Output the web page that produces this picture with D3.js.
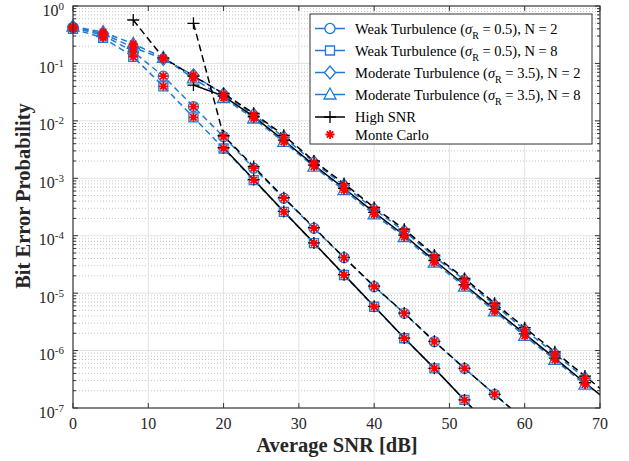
<!DOCTYPE html>
<html>
<head>
<meta charset="utf-8">
<script src="https://cdn.jsdelivr.net/npm/d3@7"></script>
<style>
  body { margin: 0; background: #fff; }
  svg { display: block; }
</style>
</head>
<body>
<svg id="chart" width="629" height="461"></svg>
<script>
// values
const snr = [0, 4, 8, 12, 16, 20, 24, 28, 32, 36, 40, 44, 48, 52, 56, 60, 64, 68];
const weakN2 = [0.42, 0.31, 0.16, 0.060, 0.0177, 0.0053, 0.0015, 4.5e-4, 1.35e-4, 4.15e-5, 1.3e-5, 4.45e-6, 1.43e-6, 4.9e-7, 1.73e-7, 6e-8, null, null];
const weakN8 = [0.40, 0.28, 0.13, 0.040, 0.0115, 0.0033, 9.3e-4, 2.6e-4, 7.4e-5, 2.07e-5, 5.8e-6, 1.64e-6, 4.9e-7, 1.38e-7, 3.9e-8, null, null, null];
const modN2 = [0.43, 0.33, 0.19, 0.12, 0.062, 0.029, 0.0128, 0.0052, 0.0019, 7.5e-4, 2.9e-4, 1.2e-4, 4.3e-5, 1.7e-5, 6.2e-6, 2.3e-6, 8.8e-7, 3.3e-7];
const modN8 = [0.44, 0.35, 0.22, 0.125, 0.055, 0.025, 0.011, 0.0043, 0.0016, 6.2e-4, 2.35e-4, 9.5e-5, 3.4e-5, 1.3e-5, 4.8e-6, 1.8e-6, 6.9e-7, 2.55e-7];

// high SNR approximations (null = not defined / not plotted)
const snrHs = [0, 4, 8, 12, 16, 20, 24, 28, 32, 36, 40, 44, 48, 52, 56, 60, 64, 68, 72];
const hsWeakN2 = [null, null, null, null, 0.5, 0.0055, 0.0016, 4.6e-4, 1.38e-4, 4.2e-5, 1.32e-5, 4.5e-6, 1.45e-6, 4.9e-7, 1.73e-7, 6.1e-8, null, null, null];
const hsWeakN8 = [null, null, null, null, null, 0.0034, 9.5e-4, 2.65e-4, 7.5e-5, 2.1e-5, 5.9e-6, 1.65e-6, 4.9e-7, 1.38e-7, 3.8e-8, null, null, null, null];
const hsModN2 = [null, null, 0.57, 0.125, 0.06, 0.030, 0.0135, 0.0056, 0.0020, 8.1e-4, 3.1e-4, 1.3e-4, 4.6e-5, 1.8e-5, 6.7e-6, 2.5e-6, 9.5e-7, 3.6e-7, 1.35e-7];
const hsModN8 = [null, null, null, null, 0.042, 0.027, 0.0118, 0.0046, 0.0017, 6.7e-4, 2.55e-4, 1.02e-4, 3.7e-5, 1.4e-5, 5.2e-6, 1.95e-6, 7.4e-7, 2.75e-7, 1.05e-7];

const xTicks = [0, 10, 20, 30, 40, 50, 60, 70];
const yExponents = [0, -1, -2, -3, -4, -5, -6, -7];
const legendLabels = [
  ["Weak Turbulence (", "0.5), N = 2"],
  ["Weak Turbulence (", "0.5), N = 8"],
  ["Moderate Turbulence (", "3.5), N = 2"],
  ["Moderate Turbulence (", "3.5), N = 8"],
  ["High SNR"],
  ["Monte Carlo"]
];

const blue = "#1f7ad6";
const red = "#ff0000";
const serif = "'Liberation Serif', 'Times New Roman', serif";

let svg = d3.select("#chart");
let plotLeft = 73, plotRight = 600, plotTop = 6, plotBottom = 408;

let x = d3.scaleLinear().domain([0, 70]).range([plotLeft, plotRight]);
let y = d3.scaleLog().domain([1e-7, 1]).range([plotBottom, plotTop]);

svg.append("defs").append("clipPath").attr("id", "plotClip")
  .append("rect")
  .attr("x", plotLeft).attr("y", plotTop)
  .attr("width", plotRight - plotLeft).attr("height", plotBottom - plotTop);

// minor grid (y only)
let minorVals = [];
for (let e = -7; e < 0; e++) {
  for (let m = 2; m <= 9; m++) minorVals.push(m * Math.pow(10, e));
}
svg.append("g").selectAll("line").data(minorVals).enter().append("line")
  .attr("x1", plotLeft).attr("x2", plotRight)
  .attr("y1", d => y(d)).attr("y2", d => y(d))
  .style("stroke", "#c4c4c4")
  .style("stroke-width", 1)
  .style("stroke-dasharray", "1,2");

// major grid
svg.append("g").selectAll("line").data(xTicks.slice(1, -1)).enter().append("line")
  .attr("x1", d => x(d)).attr("x2", d => x(d))
  .attr("y1", plotTop).attr("y2", plotBottom)
  .style("stroke", "#e2e2e2").style("stroke-width", 1);
svg.append("g").selectAll("line").data(yExponents.slice(1, -1)).enter().append("line")
  .attr("x1", plotLeft).attr("x2", plotRight)
  .attr("y1", d => y(Math.pow(10, d))).attr("y2", d => y(Math.pow(10, d)))
  .style("stroke", "#e2e2e2").style("stroke-width", 1);

// ticks on all four sides, pointing inwards
let tickG = svg.append("g").style("stroke", "#333").style("stroke-width", 1);
xTicks.forEach(function(t) {
  tickG.append("line").attr("x1", x(t)).attr("x2", x(t)).attr("y1", plotBottom).attr("y2", plotBottom - 5);
  tickG.append("line").attr("x1", x(t)).attr("x2", x(t)).attr("y1", plotTop).attr("y2", plotTop + 5);
});
yExponents.forEach(function(e) {
  let yy = y(Math.pow(10, e));
  tickG.append("line").attr("x1", plotLeft).attr("x2", plotLeft + 5).attr("y1", yy).attr("y2", yy);
  tickG.append("line").attr("x1", plotRight).attr("x2", plotRight - 5).attr("y1", yy).attr("y2", yy);
});
minorVals.forEach(function(v) {
  tickG.append("line").attr("x1", plotLeft).attr("x2", plotLeft + 3).attr("y1", y(v)).attr("y2", y(v));
  tickG.append("line").attr("x1", plotRight).attr("x2", plotRight - 3).attr("y1", y(v)).attr("y2", y(v));
});

// tick labels
svg.append("g").selectAll("text").data(xTicks).enter().append("text")
  .attr("x", d => x(d))
  .attr("y", 429)
  .text(d => d)
  .style("text-anchor", "middle")
  .style("font-family", serif)
  .style("font-size", "16px")
  .style("fill", "#262626");

let yLab = svg.append("g").selectAll("text").data(yExponents).enter().append("text")
  .attr("x", 64)
  .attr("y", d => y(Math.pow(10, d)) + 9.5)
  .style("text-anchor", "end")
  .style("font-family", serif)
  .style("font-size", "16px")
  .style("fill", "#262626");
yLab.append("tspan").text("10");
yLab.append("tspan").attr("dy", -6).style("font-size", "11px").text(d => d === 0 ? "0" : "-" + Math.abs(d));

// axis titles
svg.append("text")
  .attr("x", 337)
  .attr("y", 452)
  .text("Average SNR [dB]")
  .style("text-anchor", "middle")
  .style("font-family", serif)
  .style("font-weight", "bold")
  .style("font-size", "20.5px")
  .style("fill", "#262626");
svg.append("text")
  .attr("transform", "translate(30,196) rotate(-90)")
  .text("Bit Error Probability")
  .style("text-anchor", "middle")
  .style("font-family", serif)
  .style("font-weight", "bold")
  .style("font-size", "20.5px")
  .style("fill", "#262626");

// marker shapes
function markerPath(kind) {
  if (kind === "circle") return d3.symbol(d3.symbolCircle, 80)();
  if (kind === "square") return "M-4.5,-4.5H4.5V4.5H-4.5Z";
  if (kind === "diamond") return "M0,-6.5L5.5,0L0,6.5L-5.5,0Z";
  if (kind === "triangle") return "M0,-6.5L6,4.5L-6,4.5Z";
  if (kind === "plus") return "M-6,0H6M0,-6V6";
  if (kind === "star") return "M-4.5,0H4.5M0,-4.5V4.5M-3.2,-3.2L3.2,3.2M-3.2,3.2L3.2,-3.2";
}

let series = [
  { values: weakN2, marker: "circle", hs: hsWeakN2, hsDash: "7,4" },
  { values: weakN8, marker: "square", hs: hsWeakN8, hsDash: null },
  { values: modN2, marker: "diamond", hs: hsModN2, hsDash: "7,4" },
  { values: modN8, marker: "triangle", hs: hsModN8, hsDash: null }
];

function pts(xs, ys) {
  return xs.map((s, i) => ({ s: s, v: ys[i] }));
}
function inRange(d) {
  return d.v !== null && d.v >= 1e-7 && d.v <= 1 && d.s <= 70;
}

let line = d3.line()
  .defined(d => d.v !== null)
  .x(d => x(d.s))
  .y(d => y(d.v));

let plotG = svg.append("g").attr("clip-path", "url(#plotClip)");

// analytic curves
series.forEach(function(sr) {
  plotG.append("path")
    .datum(pts(snr, sr.values))
    .attr("d", line)
    .style("fill", "none")
    .style("stroke", blue)
    .style("stroke-width", 1.5)
    .style("stroke-dasharray", "6,4");
});
series.forEach(function(sr) {
  svg.append("g").selectAll("path")
    .data(pts(snr, sr.values).filter(inRange))
    .enter().append("path")
    .attr("d", markerPath(sr.marker))
    .attr("transform", d => "translate(" + x(d.s) + "," + y(d.v) + ")")
    .style("fill", "none")
    .style("stroke", blue)
    .style("stroke-width", 1.3);
});

// high SNR curves
series.forEach(function(sr) {
  plotG.append("path")
    .datum(pts(snrHs, sr.hs))
    .attr("d", line)
    .style("fill", "none")
    .style("stroke", "#000")
    .style("stroke-width", 1.5)
    .style("stroke-dasharray", sr.hsDash);
  svg.append("g").selectAll("path")
    .data(pts(snrHs, sr.hs).filter(inRange))
    .enter().append("path")
    .attr("d", markerPath("plus"))
    .attr("transform", d => "translate(" + x(d.s) + "," + y(d.v) + ")")
    .style("fill", "none")
    .style("stroke", "#000")
    .style("stroke-width", 1.3);
});

// Monte Carlo points
series.forEach(function(sr) {
  svg.append("g").selectAll("path")
    .data(pts(snr, sr.values).filter(inRange))
    .enter().append("path")
    .attr("d", markerPath("star"))
    .attr("transform", d => "translate(" + x(d.s) + "," + y(d.v) + ")")
    .style("fill", "none")
    .style("stroke", red)
    .style("stroke-width", 1.8);
});

// axes box
svg.append("rect")
  .attr("x", plotLeft).attr("y", plotTop)
  .attr("width", plotRight - plotLeft).attr("height", plotBottom - plotTop)
  .style("fill", "none")
  .style("stroke", "#333")
  .style("stroke-width", 1.2);

// legend
let lg = svg.append("g");
lg.append("rect")
  .attr("x", 310).attr("y", 14)
  .attr("width", 282).attr("height", 130)
  .style("fill", "#fff")
  .style("stroke", "#333")
  .style("stroke-width", 1);

let rowY = [28.5, 50.5, 72.5, 94.5, 117, 134.5];
let legendMarkers = ["circle", "square", "diamond", "triangle", "plus", "star"];
legendLabels.forEach(function(lab, i) {
  let ry = rowY[i];
  if (i < 5) {
    lg.append("line")
      .attr("x1", 315).attr("x2", 345).attr("y1", ry).attr("y2", ry)
      .style("stroke", i < 4 ? blue : "#000")
      .style("stroke-width", 1.5);
  }
  lg.append("path")
    .attr("d", markerPath(legendMarkers[i]))
    .attr("transform", "translate(330," + ry + ")")
    .style("fill", i < 4 ? "#fff" : "none")
    .style("stroke", i < 4 ? blue : (i === 4 ? "#000" : red))
    .style("stroke-width", i === 5 ? 1.8 : 1.3);

  let t = lg.append("text")
    .attr("x", 355).attr("y", ry + 5)
    .style("font-family", serif)
    .style("font-size", "14.5px")
    .style("fill", "#000");
  t.append("tspan").text(lab[0]);
  if (lab.length > 1) {
    t.append("tspan").style("font-style", "italic").text("\u03c3");
    t.append("tspan").attr("dy", 5).style("font-size", "10px").text("R");
    t.append("tspan").attr("dy", -5).text(" = " + lab[1]);
  }
});
</script>
</body>
</html>
